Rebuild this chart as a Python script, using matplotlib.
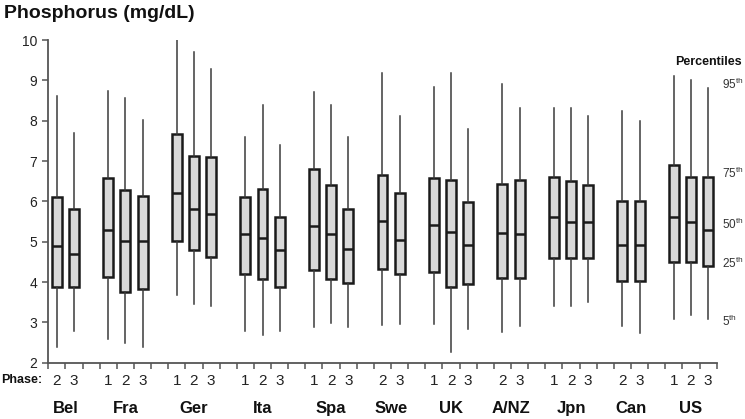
import matplotlib
matplotlib.use('Agg')
import matplotlib.pyplot as plt
from matplotlib.transforms import blended_transform_factory

plt.rcParams['font.family'] = ['Liberation Sans', 'DejaVu Sans']

# ---- data -------------------------------------------------------------
countries = ['Bel', 'Fra', 'Ger', 'Ita', 'Spa', 'Swe', 'UK', 'A/NZ', 'Jpn', 'Can', 'US']
phases = [[2, 3], [1, 2, 3], [1, 2, 3], [1, 2, 3], [1, 2, 3], [2, 3],
          [1, 2, 3], [2, 3], [1, 2, 3], [2, 3], [1, 2, 3]]

p95 = [8.60, 7.70, 8.74, 8.55, 8.02, 10.0, 9.71, 9.29, 7.59, 8.40, 7.39,
       8.70, 8.40, 7.59, 9.17, 8.12, 8.83, 9.17, 7.80, 8.90, 8.31,
       8.31, 8.31, 8.11, 8.25, 7.99, 9.12, 9.00, 8.80]
p75 = [6.10, 5.80, 6.59, 6.27, 6.14, 7.68, 7.12, 7.11, 6.10, 6.30, 5.60,
       6.79, 6.40, 5.80, 6.65, 6.20, 6.58, 6.53, 5.98, 6.43, 6.53,
       6.60, 6.50, 6.40, 6.00, 6.00, 6.89, 6.60, 6.60]
p50 = [4.89, 4.69, 5.29, 5.02, 5.02, 6.20, 5.80, 5.68, 5.20, 5.09, 4.80,
       5.39, 5.20, 4.83, 5.51, 5.05, 5.41, 5.23, 4.92, 5.21, 5.18,
       5.60, 5.49, 5.49, 4.92, 4.92, 5.60, 5.49, 5.29]
p25 = [3.88, 3.88, 4.13, 3.76, 3.83, 5.01, 4.79, 4.63, 4.20, 4.08, 3.88,
       4.30, 4.08, 3.98, 4.32, 4.20, 4.26, 3.87, 3.96, 4.11, 4.11,
       4.60, 4.60, 4.60, 4.02, 4.02, 4.50, 4.50, 4.40]
p5 = [2.40, 2.79, 2.59, 2.48, 2.40, 3.68, 3.45, 3.40, 2.79, 2.69, 2.79,
      2.89, 2.98, 2.89, 2.93, 2.96, 2.96, 2.27, 2.84, 2.77, 2.91,
      3.40, 3.40, 3.50, 2.91, 2.74, 3.08, 3.18, 3.08]

yticks = [2, 3, 4, 5, 6, 7, 8, 9, 10]
pct_labels = ['95', '75', '50', '25', '5']
pct_label_y = [8.91, 6.70, 5.43, 4.46, 3.03]

# ---- layout -----------------------------------------------------------
positions, phase_of_box, country_centers = [], [], []
slot = 0
for ci, ph in enumerate(phases):
    start = slot
    for p in ph:
        positions.append(slot + 0.5)
        phase_of_box.append(p)
        slot += 1
    country_centers.append((start + slot) / 2)
    if ci < len(phases) - 1:
        slot += 1
nslots = slot

stats = [dict(whislo=lo, q1=a, med=m, q3=b, whishi=hi, fliers=[])
         for lo, a, m, b, hi in zip(p5, p25, p50, p75, p95)]

fig = plt.figure(figsize=(7.45, 4.19), dpi=100)
ax = fig.add_axes([0.0648, 0.1344, 0.8972, 0.7701])

ax.bxp(stats, positions=positions, widths=0.58, showcaps=False,
       showfliers=False, patch_artist=True,
       boxprops=dict(facecolor='#d9d9d9', edgecolor='#1a1a1a', linewidth=1.8),
       medianprops=dict(color='#1a1a1a', linewidth=1.8),
       whiskerprops=dict(color='#3a3a3a', linewidth=1.1))

ax.set_xlim(0, nslots)
ax.set_ylim(2, 10)
ax.set_yticks(yticks)
ax.set_yticklabels([str(t) for t in yticks], fontsize=10, color='#222222')
ax.set_xticks(range(nslots + 1))
ax.set_xticklabels([])
ax.tick_params(axis='y', direction='out', length=4, width=1.1, color='#555555', pad=4)
ax.tick_params(axis='x', direction='out', length=4, width=1.1, color='#555555')
for s in ['top', 'right']:
    ax.spines[s].set_visible(False)
for s in ['left', 'bottom']:
    ax.spines[s].set_color('#555555')
    ax.spines[s].set_linewidth(1.3)

trans = blended_transform_factory(ax.transData, ax.transAxes)
axh_px = 0.7701 * 419
for x, p in zip(positions, phase_of_box):
    ax.text(x, -18 / axh_px, str(p), transform=trans, ha='center', va='center',
            fontsize=11, color='#222222')
for x, c in zip(country_centers, countries):
    ax.text(x, -45.5 / axh_px, c, transform=trans, ha='center', va='center',
            fontsize=12, fontweight='bold', color='#111111')

fig.text(42 / 745, 1 - 380 / 419, 'Phase:', ha='right', va='center',
         fontsize=9, fontweight='bold', color='#111111')
fig.text(4 / 745, 1 - 13 / 419, 'Phosphorus (mg/dL)', ha='left', va='center',
         fontsize=14, fontweight='bold', color='#111111')

fig.text(742 / 745, 1 - 62 / 419, 'Percentiles', ha='right', va='center',
         fontsize=9, fontweight='bold', color='#111111')
for lab, yv in zip(pct_labels, pct_label_y):
    ax.text(nslots + 0.3, yv, lab + r'$^{\mathregular{th}}$', ha='left', va='center',
            fontsize=8.5, color='#333333', clip_on=False)

fig.savefig('out.png', dpi=100)
